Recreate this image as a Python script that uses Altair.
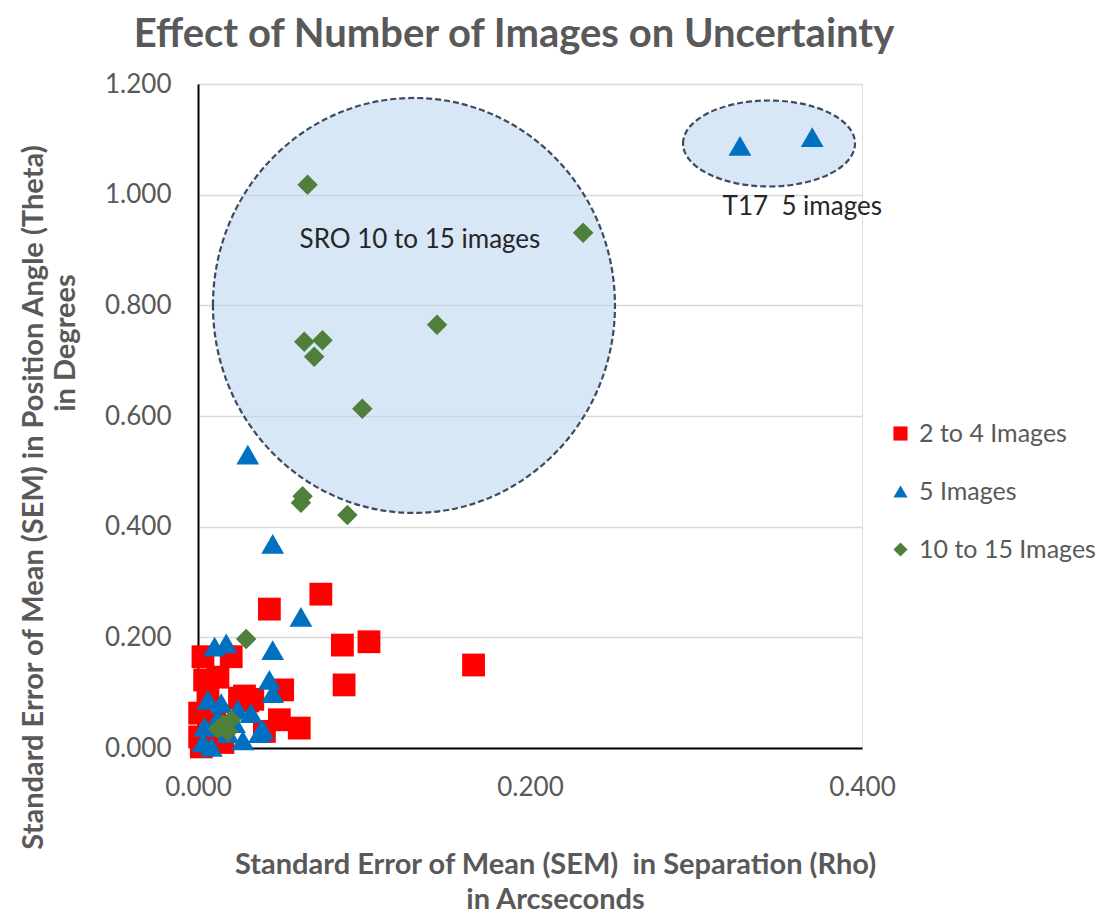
import altair as alt
import pandas as pd

# ---------------- data ----------------
series_names = ["2 to 4 Images", "5 Images", "10 to 15 Images"]
series_colors = ["#FF0000", "#0070C0", "#4F7F3B"]
series_shapes = ["square", "triangle-up", "diamond"]

red_x = [0.166, 0.043, 0.074, 0.087, 0.103, 0.088, 0.061, 0.049, 0.051, 0.028,
         0.025, 0.033, 0.003, 0.020, 0.004, 0.012, 0.001, 0.001, 0.002, 0.006,
         0.010, 0.030, 0.040, 0.015]
red_y = [0.150, 0.251, 0.278, 0.186, 0.192, 0.114, 0.036, 0.051, 0.105, 0.094,
         0.090, 0.088, 0.165, 0.165, 0.123, 0.128, 0.063, 0.020, 0.002, 0.100,
         0.045, 0.085, 0.030, 0.010]

blue_x = [0.3265, 0.370, 0.030, 0.045, 0.062, 0.045, 0.043, 0.045, 0.010, 0.017,
          0.037, 0.006, 0.014, 0.004, 0.008, 0.032, 0.039, 0.027, 0.018, 0.003,
          0.012, 0.022, 0.024]
blue_y = [1.088, 1.104, 0.530, 0.369, 0.237, 0.177, 0.123, 0.099, 0.183, 0.189,
          0.027, 0.087, 0.081, 0.038, 0.002, 0.063, 0.033, 0.014, 0.027, 0.010,
          0.055, 0.045, 0.070]

green_x = [0.066, 0.232, 0.144, 0.064, 0.075, 0.070, 0.099, 0.062, 0.063, 0.090,
           0.029, 0.015, 0.020, 0.012, 0.018]
green_y = [1.018, 0.931, 0.765, 0.734, 0.737, 0.707, 0.613, 0.443, 0.455, 0.421,
           0.197, 0.042, 0.051, 0.035, 0.030]

x_ticks = [0.0, 0.2, 0.4]
y_ticks = [0.0, 0.2, 0.4, 0.6, 0.8, 1.0, 1.2]

# annotation ellipses (centre in data units) and labels
ellipse_rho = [0.1301, 0.344]
ellipse_theta = [0.7998, 1.0925]
label_text = ["SRO 10 to 15 images", "T17\u00a0\u00a05 images"]
label_rho = [0.1337, 0.316]
label_theta = [0.918, 0.978]

# ---------------- build tables ----------------
rows = []
for name, xs, ys in zip(series_names, [red_x, blue_x, green_x], [red_y, blue_y, green_y]):
    for a, b in zip(xs, ys):
        rows.append({"series": name, "rho": a, "theta": b})
df = pd.DataFrame(rows)

ell_df = pd.DataFrame({"rho": ellipse_rho, "theta": ellipse_theta})
lab_df = pd.DataFrame({"t": label_text, "rho": label_rho, "theta": label_theta})

FONT = "Lato"
GRAY = "#595959"
TITLE_SIZE = 29

x_enc = alt.X(
    "rho:Q",
    scale=alt.Scale(domain=[0, 0.4], nice=False, zero=True),
    axis=alt.Axis(
        values=x_ticks, format=".3f", grid=False, ticks=False, labelFlush=False,
        domainColor="#000000", domainWidth=2,
        labelFont=FONT, labelFontSize=26, labelColor=GRAY, labelPadding=26,
        title=["Standard Error of Mean (SEM)\u00a0\u00a0in Separation (Rho)", "in Arcseconds"],
        titleFont=FONT, titleFontSize=TITLE_SIZE, titleFontWeight="bold", titleColor=GRAY,
        titleX=357, titleY=102, titleBaseline="top", titleAlign="center",
        titleLineHeight=35, titleAngle=0, titleLimit=0,
    ),
)
y_enc = alt.Y(
    "theta:Q",
    scale=alt.Scale(domain=[0, 1.2], nice=False, zero=True),
    axis=alt.Axis(
        values=y_ticks, format=".3f", grid=True, gridColor="#D9D9D9", gridWidth=1.5,
        ticks=False, labelFlush=False, domainColor="#000000", domainWidth=2,
        labelFont=FONT, labelFontSize=26, labelColor=GRAY, labelPadding=27,
        title="Standard Error of Mean (SEM) in Position Angle (Theta)",
        titleFont=FONT, titleFontSize=TITLE_SIZE, titleFontWeight="bold", titleColor=GRAY,
        titleX=-165, titleY=413, titleAngle=270, titleBaseline="middle",
        titleAlign="center", titleLimit=0,
    ),
)


def ellipse_path(k):
    c = 0.5523
    return (f"M -1 0 C -1 {-c*k:.4f} {-c} {-k:.4f} 0 {-k:.4f} "
            f"C {c} {-k:.4f} 1 {-c*k:.4f} 1 0 "
            f"C 1 {c*k:.4f} {c} {k:.4f} 0 {k:.4f} "
            f"C {-c} {k:.4f} -1 {c*k:.4f} -1 0 Z")


ell_style = dict(filled=True, fill="#BDD7EE", fillOpacity=0.6, stroke="#3F4A5E",
                 strokeWidth=2.2, strokeDash=[6, 3], opacity=1)

ell_sro = alt.Chart(ell_df.iloc[[0]]).mark_point(
    shape=ellipse_path(207.5 / 201), size=(2 * 201) ** 2, **ell_style
).encode(x=x_enc, y=y_enc)
ell_t17 = alt.Chart(ell_df.iloc[[1]]).mark_point(
    shape=ellipse_path(43 / 86), size=(2 * 86) ** 2, **ell_style
).encode(x=x_enc, y=y_enc)

legend = alt.Legend(
    title=None, orient="none", legendX=690, legendY=337, padding=0,
    labelFont=FONT, labelFontSize=25, labelColor=GRAY, labelLimit=0, symbolSize=200,
    rowPadding=32, labelOffset=6, symbolStrokeWidth=0,
)
color_enc = alt.Color("series:N", scale=alt.Scale(domain=series_names, range=series_colors),
                      legend=legend)
shape_enc = alt.Shape("series:N", scale=alt.Scale(domain=series_names, range=series_shapes),
                      legend=legend)

point_sizes = [520, 520, 420]
point_layers = []
for name, sz in zip(series_names, point_sizes):
    point_layers.append(
        alt.Chart(df).transform_filter(alt.datum.series == name)
        .mark_point(filled=True, opacity=1, size=sz)
        .encode(x=x_enc, y=y_enc, color=color_enc, shape=shape_enc)
    )

labels_sro = alt.Chart(lab_df.iloc[[0]]).mark_text(
    font=FONT, fontSize=26, color="#262626", align="center", baseline="middle"
).encode(x=x_enc, y=y_enc, text="t:N")
labels_t17 = alt.Chart(lab_df.iloc[[1]]).mark_text(
    font=FONT, fontSize=26, color="#262626", align="left", baseline="middle"
).encode(x=x_enc, y=y_enc, text="t:N")

second_line = alt.Chart(pd.DataFrame({"t": ["in Degrees"]})).mark_text(
    font=FONT, fontSize=TITLE_SIZE, fontWeight="bold", color=GRAY, angle=270,
    align="center", baseline="middle"
).encode(x=alt.value(-132), y=alt.value(259), text="t:N")

chart = alt.layer(
    ell_sro, ell_t17, *point_layers, labels_sro, labels_t17, second_line
).properties(
    width=664, height=664,
    title=alt.TitleParams(
        "Effect of Number of Images on Uncertainty", font=FONT, fontSize=40,
        fontWeight="bold", color=GRAY, anchor="middle", dx=-16, offset=16,
    ),
    autosize=alt.AutoSizeParams(type="none"),
    padding={"left": 190, "top": 76, "right": 247, "bottom": 166},
).configure_view(
    stroke="#6E7B5B", strokeWidth=2
).configure(background="white")

chart.save("out.html", embed_options={"renderer": "svg", "actions": False})
